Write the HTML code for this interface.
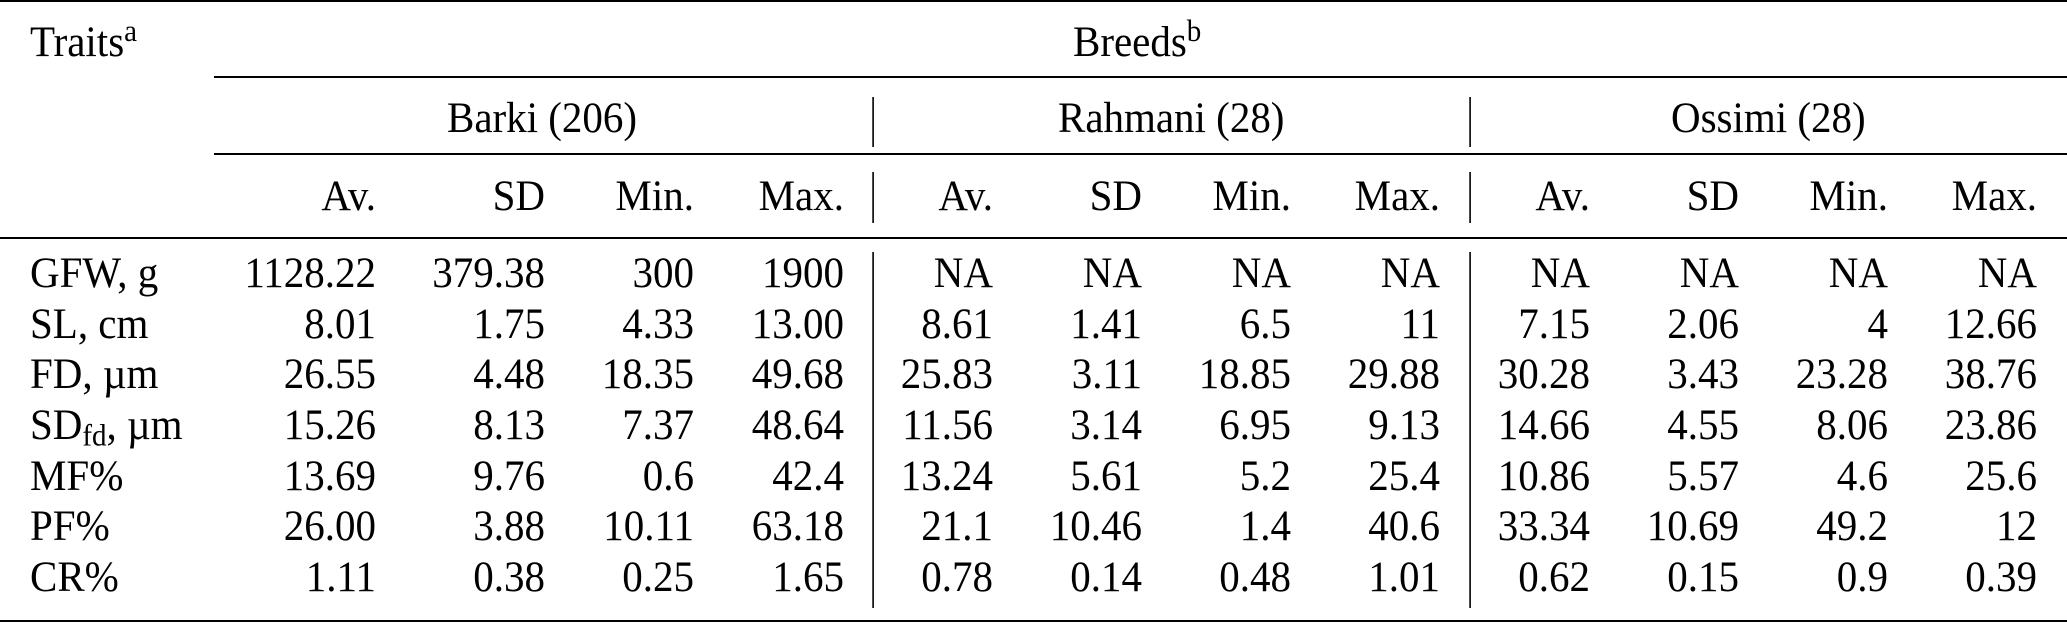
<!DOCTYPE html>
<html><head><meta charset="utf-8"><style>
html,body{margin:0;padding:0;background:#fff;}
svg{display:block;}
text{font-family:"Liberation Serif","Times New Roman",serif;font-size:41px;fill:#000;}
.r{text-anchor:end;}
</style></head><body>
<svg width="2067" height="623" viewBox="0 0 2067 623" xmlns="http://www.w3.org/2000/svg">
<rect width="2067" height="623" fill="#fff"/>
<g fill="#000">
<rect x="0" y="0" width="2067" height="2"/>
<rect x="214" y="76" width="1853" height="2"/>
<rect x="214" y="153" width="1853" height="2"/>
<rect x="0" y="237" width="2067" height="2"/>
<rect x="0" y="620" width="2067" height="2"/>
<rect x="872.3" y="97" width="1.6" height="50"/>
<rect x="872.3" y="172" width="1.6" height="51"/>
<rect x="872.3" y="252" width="1.6" height="356"/>
<rect x="1469.3" y="97" width="1.6" height="50"/>
<rect x="1469.3" y="172" width="1.6" height="51"/>
<rect x="1469.3" y="252" width="1.6" height="356"/>
</g>
<g transform="scale(1,1.07)">
<text x="30" y="52.34">Traits<tspan font-size="29" dy="-14">a</tspan></text>
<text x="1073" y="52.34">Breeds<tspan font-size="29" dy="-14">b</tspan></text>
<text x="447" y="123.36">Barki (206)</text>
<text x="1058" y="123.36">Rahmani (28)</text>
<text x="1671" y="123.36">Ossimi (28)</text>

<text class="r" x="376" y="196.26">Av.</text><text class="r" x="545" y="196.26">SD</text><text class="r" x="694" y="196.26">Min.</text><text class="r" x="844" y="196.26">Max.</text>
<text class="r" x="993" y="196.26">Av.</text><text class="r" x="1142" y="196.26">SD</text><text class="r" x="1291" y="196.26">Min.</text><text class="r" x="1440" y="196.26">Max.</text>
<text class="r" x="1590" y="196.26">Av.</text><text class="r" x="1739" y="196.26">SD</text><text class="r" x="1888" y="196.26">Min.</text><text class="r" x="2037" y="196.26">Max.</text>

<text x="30" y="268.22">GFW, g</text>
<text class="r" x="376" y="268.22">1128.22</text><text class="r" x="545" y="268.22">379.38</text><text class="r" x="694" y="268.22">300</text><text class="r" x="844" y="268.22">1900</text>
<text class="r" x="993" y="268.22">NA</text><text class="r" x="1142" y="268.22">NA</text><text class="r" x="1291" y="268.22">NA</text><text class="r" x="1440" y="268.22">NA</text>
<text class="r" x="1590" y="268.22">NA</text><text class="r" x="1739" y="268.22">NA</text><text class="r" x="1888" y="268.22">NA</text><text class="r" x="2037" y="268.22">NA</text>

<text x="30" y="315.89">SL, cm</text>
<text class="r" x="376" y="315.89">8.01</text><text class="r" x="545" y="315.89">1.75</text><text class="r" x="694" y="315.89">4.33</text><text class="r" x="844" y="315.89">13.00</text>
<text class="r" x="993" y="315.89">8.61</text><text class="r" x="1142" y="315.89">1.41</text><text class="r" x="1291" y="315.89">6.5</text><text class="r" x="1440" y="315.89">11</text>
<text class="r" x="1590" y="315.89">7.15</text><text class="r" x="1739" y="315.89">2.06</text><text class="r" x="1888" y="315.89">4</text><text class="r" x="2037" y="315.89">12.66</text>

<text x="30" y="362.62">FD, µm</text>
<text class="r" x="376" y="362.62">26.55</text><text class="r" x="545" y="362.62">4.48</text><text class="r" x="694" y="362.62">18.35</text><text class="r" x="844" y="362.62">49.68</text>
<text class="r" x="993" y="362.62">25.83</text><text class="r" x="1142" y="362.62">3.11</text><text class="r" x="1291" y="362.62">18.85</text><text class="r" x="1440" y="362.62">29.88</text>
<text class="r" x="1590" y="362.62">30.28</text><text class="r" x="1739" y="362.62">3.43</text><text class="r" x="1888" y="362.62">23.28</text><text class="r" x="2037" y="362.62">38.76</text>

<text x="30" y="410.28">SD<tspan font-size="29" dy="6">fd</tspan><tspan dy="-6">, µm</tspan></text>
<text class="r" x="376" y="410.28">15.26</text><text class="r" x="545" y="410.28">8.13</text><text class="r" x="694" y="410.28">7.37</text><text class="r" x="844" y="410.28">48.64</text>
<text class="r" x="993" y="410.28">11.56</text><text class="r" x="1142" y="410.28">3.14</text><text class="r" x="1291" y="410.28">6.95</text><text class="r" x="1440" y="410.28">9.13</text>
<text class="r" x="1590" y="410.28">14.66</text><text class="r" x="1739" y="410.28">4.55</text><text class="r" x="1888" y="410.28">8.06</text><text class="r" x="2037" y="410.28">23.86</text>

<text x="30" y="457.94">MF%</text>
<text class="r" x="376" y="457.94">13.69</text><text class="r" x="545" y="457.94">9.76</text><text class="r" x="694" y="457.94">0.6</text><text class="r" x="844" y="457.94">42.4</text>
<text class="r" x="993" y="457.94">13.24</text><text class="r" x="1142" y="457.94">5.61</text><text class="r" x="1291" y="457.94">5.2</text><text class="r" x="1440" y="457.94">25.4</text>
<text class="r" x="1590" y="457.94">10.86</text><text class="r" x="1739" y="457.94">5.57</text><text class="r" x="1888" y="457.94">4.6</text><text class="r" x="2037" y="457.94">25.6</text>

<text x="30" y="504.67">PF%</text>
<text class="r" x="376" y="504.67">26.00</text><text class="r" x="545" y="504.67">3.88</text><text class="r" x="694" y="504.67">10.11</text><text class="r" x="844" y="504.67">63.18</text>
<text class="r" x="993" y="504.67">21.1</text><text class="r" x="1142" y="504.67">10.46</text><text class="r" x="1291" y="504.67">1.4</text><text class="r" x="1440" y="504.67">40.6</text>
<text class="r" x="1590" y="504.67">33.34</text><text class="r" x="1739" y="504.67">10.69</text><text class="r" x="1888" y="504.67">49.2</text><text class="r" x="2037" y="504.67">12</text>

<text x="30" y="552.34">CR%</text>
<text class="r" x="376" y="552.34">1.11</text><text class="r" x="545" y="552.34">0.38</text><text class="r" x="694" y="552.34">0.25</text><text class="r" x="844" y="552.34">1.65</text>
<text class="r" x="993" y="552.34">0.78</text><text class="r" x="1142" y="552.34">0.14</text><text class="r" x="1291" y="552.34">0.48</text><text class="r" x="1440" y="552.34">1.01</text>
<text class="r" x="1590" y="552.34">0.62</text><text class="r" x="1739" y="552.34">0.15</text><text class="r" x="1888" y="552.34">0.9</text><text class="r" x="2037" y="552.34">0.39</text>
</g>
</svg>
</body></html>
